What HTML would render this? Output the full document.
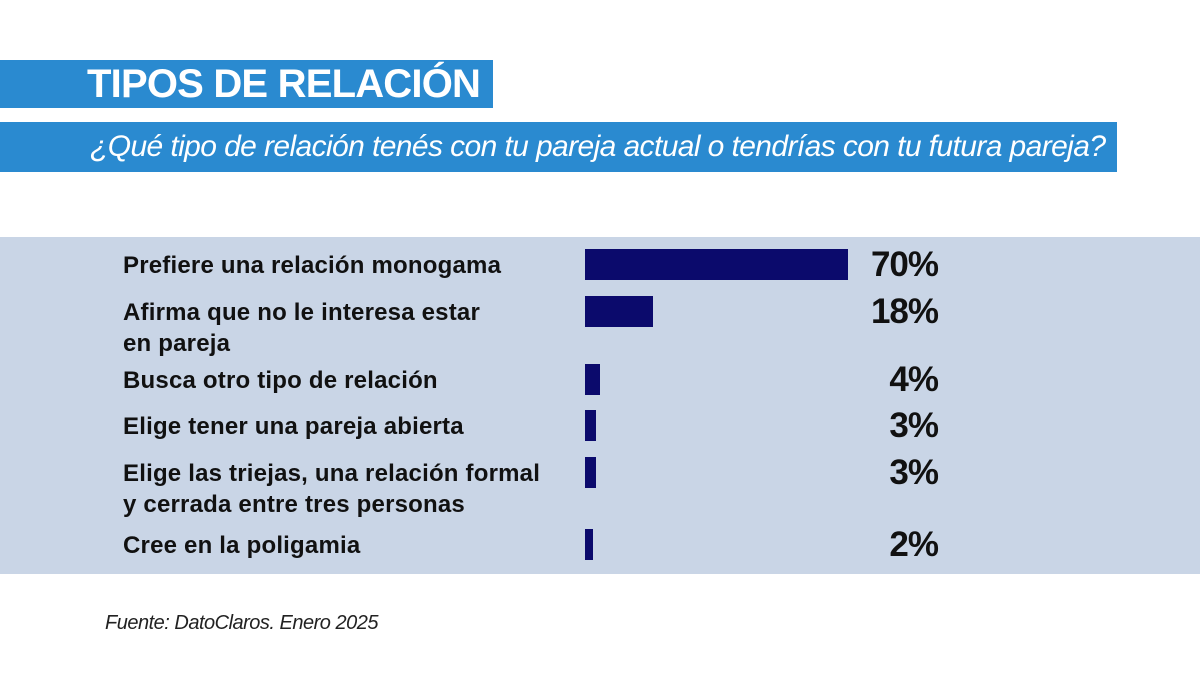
<!DOCTYPE html>
<html><head><meta charset="utf-8"><style>
body{margin:0;width:1200px;height:675px;background:#fff;position:relative;overflow:hidden;font-family:"Liberation Sans",sans-serif}
.abs{position:absolute}
#title{left:0;top:60px;width:493px;height:48px;background:#2a8ad0}
#title span{position:absolute;left:87px;top:2px;font-size:40px;font-weight:bold;color:#fff;letter-spacing:-0.8px}
#sub{left:0;top:122px;width:1117px;height:50px;background:#2a8ad0}
#sub span{position:absolute;left:90px;top:8px;font-size:30px;font-style:italic;color:#fff;letter-spacing:-0.6px}
#panel{left:0;top:237px;width:1200px;height:337px;background:#c9d5e6}
.lab{position:absolute;left:123px;font-size:24px;font-weight:bold;color:#111;line-height:31px;letter-spacing:0.2px}
.val{position:absolute;font-size:35px;font-weight:bold;color:#111;text-align:right;width:120px;letter-spacing:-1px}
.bar{position:absolute;background:#0b0a6c}
#src{left:105px;top:612px;font-size:20px;font-style:italic;color:#222;letter-spacing:-0.5px}
</style></head><body>
<div id="title" class="abs"><span>TIPOS DE RELACIÓN</span></div>
<div id="sub" class="abs"><span>¿Qué tipo de relación tenés con tu pareja actual o tendrías con tu futura pareja?</span></div>
<div id="panel" class="abs"></div>
<div id="chart"></div>
<div id="src" class="abs">Fuente: DatoClaros. Enero 2025</div>
<script>
const categories=["Prefiere una relación monogama","Afirma que no le interesa estar<br>en pareja","Busca otro tipo de relación","Elige tener una pareja abierta","Elige las triejas, una relación formal<br>y cerrada entre tres personas","Cree en la poligamia"];
const values=[70,18,4,3,3,2];
const valueLabels=["70%","18%","4%","3%","3%","2%"];
const rowTops=[249,296,364,410,457,529];
const x0=585,scale=3.76;
function xw(v){return Math.max(v*scale,7);}
const chart=document.getElementById('chart');
categories.forEach((c,i)=>{
 const y=rowTops[i];
 const l=document.createElement('div');l.className='lab';l.style.top=(y+1)+'px';l.innerHTML=c;
 
 
 chart.appendChild(l);
 const b=document.createElement('div');b.className='bar';b.style.left=x0+'px';b.style.top=y+'px';b.style.height='31px';b.style.width=xw(values[i])+'px';
 
 
 chart.appendChild(b);
 const v=document.createElement('div');v.className='val';v.style.left='818px';v.style.top=(y-4)+'px';v.textContent=valueLabels[i];
 
 
 chart.appendChild(v);
});
</script>
</body></html>
